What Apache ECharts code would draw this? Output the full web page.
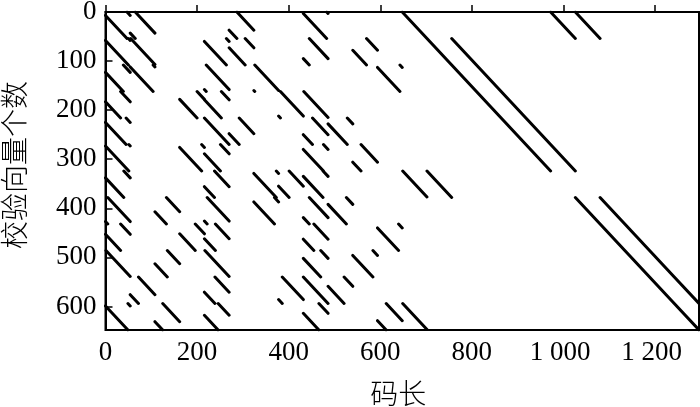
<!DOCTYPE html>
<html>
<head>
<meta charset="utf-8">
<style>
html, body { margin: 0; padding: 0; background: #fff; }
#chart { width: 700px; height: 407px; }
</style>
<script src="https://cdn.jsdelivr.net/npm/echarts@6/dist/echarts.min.js"></script>
</head>
<body>
<div id="chart"></div>
<script>
var blockSize = 54;
// shift of each block, one list per block row, null = empty block
var shifts0 = [47, 11, null, null, null, 17, null, null, 51, null, null, null, 0, null, null, null, null, null, 0, 0, null, null, null, null];
var shifts1 = [50, 1, null, null, 48, 35, null, null, 13, null, 30, null, null, 0, 0, null, null, null, null, null, null, null, null, null];
var shifts2 = [39, 50, null, null, 4, null, 2, null, null, null, null, 49, null, null, 0, 0, null, null, null, null, null, null, null, null];
var shifts3 = [33, null, null, 38, 37, null, null, 4, 1, null, null, null, null, null, null, 0, 0, null, null, null, null, null, null, null];
var shifts4 = [45, null, null, null, 0, 22, null, null, 20, 42, null, null, null, null, null, null, 0, 0, null, null, null, null, null, null];
var shifts5 = [51, null, null, 48, 35, null, null, null, 44, null, 18, null, null, null, null, null, null, 0, 0, null, null, null, null, null];
var shifts6 = [40, null, null, null, 22, null, 49, 23, 43, null, null, null, 1, 0, null, null, null, null, null, null, null, null, null, null];
var shifts7 = [5, null, 25, null, 6, null, 45, null, 13, 40, null, null, null, null, null, null, null, null, null, 0, 0, null, null, null];
var shifts8 = [33, null, null, 34, 24, null, null, null, 23, null, null, 46, null, null, null, null, null, null, null, null, 0, 0, null, null];
var shifts9 = [1, null, 27, null, 1, null, null, null, 38, null, 44, null, null, null, null, null, null, null, null, null, null, 0, 0, null];
var shifts10 = [null, 18, null, null, 23, null, null, 8, 0, 35, null, null, null, null, null, null, null, null, null, null, null, null, 0, 0];
var shifts11 = [49, null, 17, null, 30, null, null, null, 34, null, null, 19, 1, null, null, null, null, null, null, null, null, null, null, 0];
var shiftRows = [shifts0, shifts1, shifts2, shifts3, shifts4, shifts5, shifts6, shifts7, shifts8, shifts9, shifts10, shifts11];

var codeLength = 1296;
var checkCount = 648;
var xTickLabels = { 0: '0', 200: '200', 400: '400', 600: '600', 800: '800', 1000: '1\u2005000\u2005', 1200: '1\u2005200\u2005' };

// every block is a wrapped diagonal, so up to two strokes per block
var points = [];
shiftRows.forEach(function (row, r) {
    row.forEach(function (s, c) {
        if (s === null) return;
        var x0 = c * blockSize, y0 = r * blockSize;
        points.push([x0 + s, y0], [x0 + blockSize, y0 + blockSize - s], [null, null]);
        if (s > 0) {
            points.push([x0, y0 + blockSize - s], [x0 + s, y0 + blockSize], [null, null]);
        }
    });
});

var myChart = echarts.init(document.getElementById('chart'), null, { renderer: 'canvas' });
var numFont = 'Liberation Serif';
var nameFont = 'Noto Sans CJK SC';

myChart.setOption({
    animation: false,
    backgroundColor: '#fff',
    grid: { left: 105.5, right: 1, top: 12, bottom: 77, outerBoundsMode: 'none', show: true, borderColor: '#000', borderWidth: 2, backgroundColor: 'transparent' },
    xAxis: {
        type: 'value',
        min: 0,
        max: codeLength,
        interval: 200,
        name: '码长',
        nameLocation: 'middle',
        nameGap: 49,
        nameTextStyle: { fontFamily: nameFont, fontSize: 28, fontWeight: 300, color: '#000', padding: [0, 8, 0, 0] },
        splitLine: { show: false },
        axisLine: { lineStyle: { color: '#000', width: 2 } },
        axisTick: { inside: true, length: 7, lineStyle: { color: '#000', width: 1.5 } },
        axisLabel: {
            margin: 9,
            showMaxLabel: false,
            fontFamily: numFont,
            fontSize: 27,
            color: '#000',
            formatter: function (v) { return xTickLabels[v] || ''; }
        }
    },
    yAxis: {
        type: 'value',
        inverse: true,
        min: 0,
        max: checkCount,
        interval: 100,
        name: '校验向量个数',
        nameLocation: 'middle',
        nameGap: 77,
        nameTextStyle: { fontFamily: nameFont, fontSize: 28, fontWeight: 300, color: '#000', padding: [0, 0, 0, 12] },
        splitLine: { show: false },
        axisLine: { lineStyle: { color: '#000', width: 2 } },
        axisTick: { inside: true, length: 7, lineStyle: { color: '#000', width: 1.5 } },
        axisLabel: {
            margin: 9,
            showMaxLabel: false,
            fontFamily: numFont,
            fontSize: 27,
            color: '#000'
        }
    },
    series: [{
        type: 'line',
        data: points,
        symbol: 'none',
        silent: true,
        connectNulls: false,
        lineStyle: { color: '#000', width: 3, cap: 'round' }
    }]
});
</script>
</body>
</html>
